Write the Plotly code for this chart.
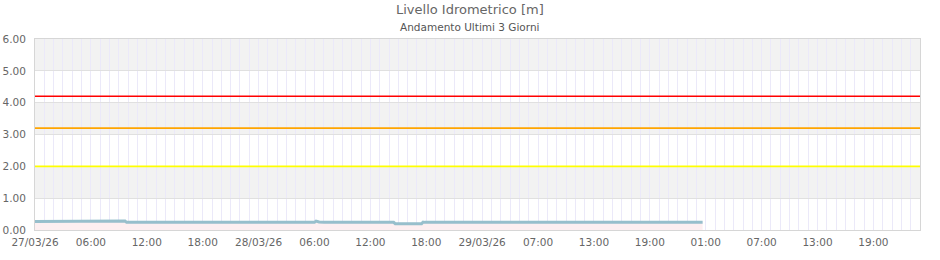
import plotly.graph_objects as go

# --- data (timestamps in UTC; labels shown in local time) ---
times = [
    "2026-03-26 23:00", "2026-03-27 08:30", "2026-03-27 08:40", "2026-03-27 08:50",
    "2026-03-28 05:00", "2026-03-28 05:10", "2026-03-28 05:30", "2026-03-28 06:00",
    "2026-03-28 13:30", "2026-03-28 13:40", "2026-03-28 16:30", "2026-03-28 16:40",
    "2026-03-28 16:50", "2026-03-29 22:40",
]
levels = [
    0.27, 0.27, 0.28, 0.24,
    0.24, 0.28, 0.25, 0.24,
    0.24, 0.20, 0.20, 0.25,
    0.24, 0.24,
]
thresholds = [4.2, 3.2, 2.0]
threshold_colors = ["#ff0000", "#ffa500", "#ffff00"]

tick_vals = [
    "2026-03-26 23:00", "2026-03-27 05:00", "2026-03-27 11:00", "2026-03-27 17:00",
    "2026-03-27 23:00", "2026-03-28 05:00", "2026-03-28 11:00", "2026-03-28 17:00",
    "2026-03-28 23:00", "2026-03-29 05:00", "2026-03-29 11:00", "2026-03-29 17:00",
    "2026-03-29 23:00", "2026-03-30 05:00", "2026-03-30 11:00", "2026-03-30 17:00",
]
tick_text = [
    "27/03/26", "06:00", "12:00", "18:00",
    "28/03/26", "06:00", "12:00", "18:00",
    "29/03/26", "07:00", "13:00", "19:00",
    "01:00", "07:00", "13:00", "19:00",
]
x_range = ["2026-03-26 23:00", "2026-03-30 22:00"]
y_range = [0, 6]
bands = [(1, 2), (3, 4), (5, 6)]

fig = go.Figure()
fig.add_trace(go.Scatter(
    x=times, y=levels, mode="lines",
    line=dict(color="#97bfcc", width=3, shape="linear"),
    fill="tozeroy", fillcolor="#fdeff1",
    hoverinfo="x+y", showlegend=False,
))

shapes = []
for y0, y1 in bands:
    shapes.append(dict(type="rect", xref="paper", yref="y", x0=0, x1=1, y0=y0, y1=y1,
                       fillcolor="#f2f2f2", line=dict(width=0), layer="below"))
for v, c in zip(thresholds, threshold_colors):
    shapes.append(dict(type="line", xref="paper", yref="y", x0=0, x1=1, y0=v, y1=v,
                       line=dict(color=c, width=1.6), layer="above"))

fig.update_layout(
    width=940, height=260,
    margin=dict(l=35, r=20, t=39, b=30),
    paper_bgcolor="white", plot_bgcolor="white",
    font=dict(family="DejaVu Sans", size=10.5, color="#666666"),
    shapes=shapes,
    annotations=[
        dict(text="Livello Idrometrico [m]", xref="paper", yref="paper",
             x=0.4915, y=1.152, xanchor="center", yanchor="middle",
             showarrow=False, font=dict(size=13, color="#666666")),
        dict(text="Andamento Ultimi 3 Giorni", xref="paper", yref="paper",
             x=0.4915, y=1.063, xanchor="center", yanchor="middle",
             showarrow=False, font=dict(size=10.5, color="#555555")),
    ],
    xaxis=dict(
        type="date", range=x_range, automargin=False,
        tickmode="array", tickvals=tick_vals, ticktext=tick_text,
        showgrid=True, gridcolor="#ebe9f9", gridwidth=1,
        minor=dict(tickmode="linear", tick0=x_range[0], dtick=3600000,
                   showgrid=True, gridcolor="#ebe9f9", gridwidth=1, ticks=""),
        showline=True, linecolor="#d6d6d6", linewidth=1, mirror=True,
        ticks="", zeroline=False, ticklabelstandoff=2,
    ),
    yaxis=dict(
        range=y_range, tickmode="linear", tick0=0, dtick=1, tickformat=".2f",
        automargin=False,
        showgrid=True, gridcolor="#e0e0e0", gridwidth=1,
        showline=True, linecolor="#d6d6d6", linewidth=1, mirror=True,
        ticks="", zeroline=False, ticklabelstandoff=6,
    ),
)

fig.write_html("out.html")
